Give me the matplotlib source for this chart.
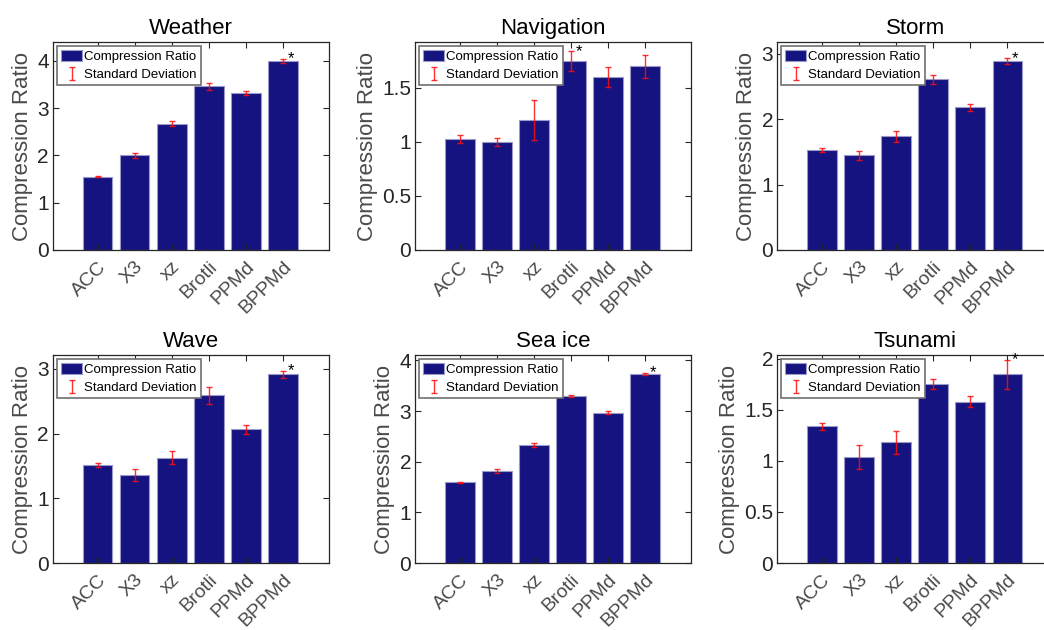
# Compression ratio of six codecs on six datasets (2x3 bar panels with error bars)
import matplotlib
matplotlib.use("Agg")
import matplotlib.pyplot as plt
from matplotlib.ticker import FormatStrFormatter

plt.rcParams["font.family"] = ["Liberation Sans", "DejaVu Sans"]

# data
codecs = ["ACC", "X3", "xz", "Brotli", "PPMd", "BPPMd"]
datasets = ["Weather", "Navigation", "Storm", "Wave", "Sea ice", "Tsunami"]

weather = [1.55, 2.00, 2.67, 3.46, 3.32, 4.00]
weather_sd = [0.01, 0.05, 0.05, 0.08, 0.04, 0.04]
navigation = [1.03, 1.00, 1.20, 1.75, 1.60, 1.70]
navigation_sd = [0.037, 0.034, 0.185, 0.09, 0.09, 0.11]
storm = [1.53, 1.45, 1.74, 2.61, 2.18, 2.89]
storm_sd = [0.035, 0.07, 0.085, 0.065, 0.055, 0.04]
wave = [1.51, 1.36, 1.63, 2.59, 2.07, 2.92]
wave_sd = [0.03, 0.088, 0.10, 0.134, 0.07, 0.054]
sea_ice = [1.59, 1.82, 2.33, 3.30, 2.97, 3.73]
sea_ice_sd = [0.01, 0.035, 0.035, 0.02, 0.025, 0.02]
tsunami = [1.34, 1.04, 1.18, 1.75, 1.58, 1.85]
tsunami_sd = [0.033, 0.12, 0.115, 0.05, 0.052, 0.142]

ratios = [weather, navigation, storm, wave, sea_ice, tsunami]
devs = [weather_sd, navigation_sd, storm_sd, wave_sd, sea_ice_sd, tsunami_sd]
best = [5, 3, 5, 5, 5, 5]  # bar marked with *
ytick_step = [1, 0.5, 1, 1, 1, 0.5]

bar_color = "#14137f"
edge_color = "#9a9ac8"
err_color = (1.0, 0.05, 0.05, 0.85)
dark = "#262626"
grey = "#4a4a4a"

fig = plt.figure(figsize=(10.44, 6.3), dpi=100)

lefts = [0.0508, 0.3978, 0.7446]
bottoms = [0.6032, 0.1063]
w, h = 0.2644, 0.330

for i in range(6):
    ax = fig.add_axes([lefts[i % 3], bottoms[i // 3], w, h])
    x = list(range(1, 7))
    vals = ratios[i]
    sd = devs[i]
    bars = ax.bar(x, vals, width=0.8, color=bar_color, edgecolor=edge_color,
                  linewidth=0.8, label="Compression Ratio")
    eb = ax.errorbar(x, vals, yerr=sd, fmt="none", ecolor=err_color,
                     elinewidth=1.0, capsize=2.5, capthick=1.0,
                     label="Standard Deviation")
    k = best[i]
    ax.text(x[k] + 0.12, vals[k] + sd[k], "*", fontsize=12, color="black",
            ha="left", va="center")

    top = max(vals) * 1.1
    ax.set_ylim(0, top)
    ax.set_xlim(-0.2, 7.24)
    step = ytick_step[i]
    ticks = []
    t = 0.0
    while t <= top + 1e-9:
        ticks.append(t)
        t += step
    ax.set_yticks(ticks)
    ax.yaxis.set_major_formatter(FormatStrFormatter("%g"))
    ax.set_xticks(x)
    ax.set_xticklabels(codecs, rotation=45, ha="right", va="top",
                       rotation_mode="anchor", color=grey, fontsize=14)
    ax.tick_params(axis="both", direction="in", length=4, width=0.8,
                   top=True, right=True, color=dark, labelsize=15)
    ax.tick_params(axis="x", labelsize=14, pad=6)
    ax.tick_params(axis="y", labelcolor=dark, pad=3)
    for s in ax.spines.values():
        s.set_color(dark)
        s.set_linewidth(0.9)

    ax.set_title(datasets[i], fontsize=16, color="black", pad=6)
    ax.set_ylabel("Compression Ratio", fontsize=16, color=grey, labelpad=3)

    leg = ax.legend([bars, eb], ["Compression Ratio", "Standard Deviation"],
                    loc="upper left", fontsize=9.5, fancybox=False,
                    edgecolor="#707070", framealpha=1, borderpad=0.3,
                    labelspacing=0.4, handlelength=1.6, handleheight=0.9,
                    handletextpad=0.15, borderaxespad=0.3)
    leg.get_frame().set_linewidth(1.2)

fig.savefig("out.png", dpi=100)
